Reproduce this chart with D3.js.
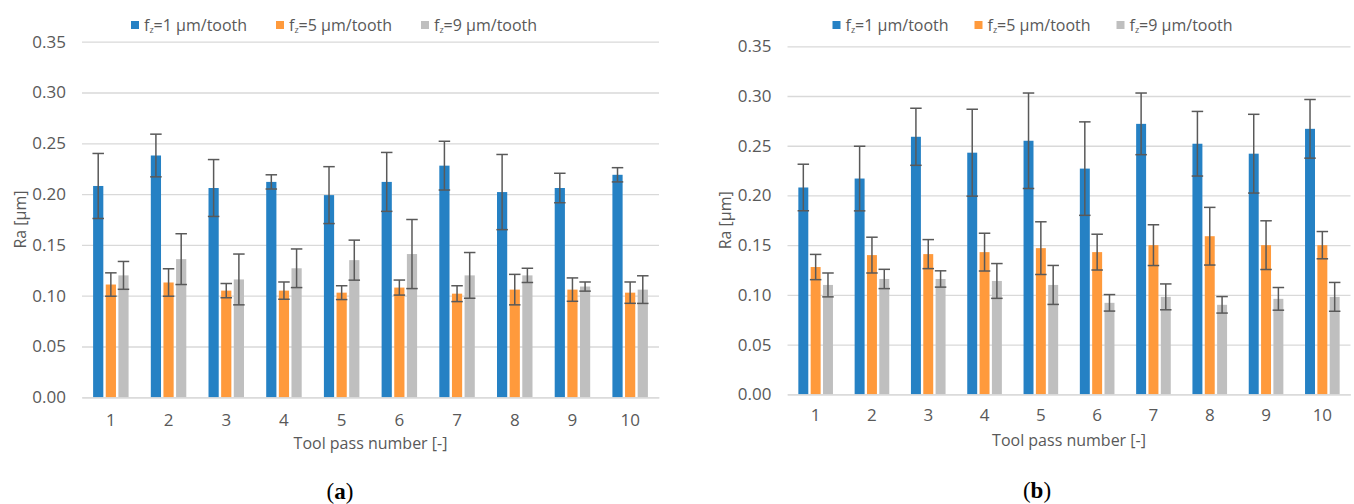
<!DOCTYPE html>
<html><head><meta charset="utf-8">
<script src="https://cdn.jsdelivr.net/npm/d3@7"></script>
<style>
html,body{margin:0;padding:0;background:#fff;}
svg{display:block;font-family:"Open Sans",sans-serif;}
</style></head>
<body>
<svg id="chart" width="1354" height="504"></svg>
<script>
// ---- data ----
const categories = ["1","2","3","4","5","6","7","8","9","10"];
const seriesNames = ["fz1","fz5","fz9"];
const seriesLabels = ["=1 μm/tooth","=5 μm/tooth","=9 μm/tooth"];
const yTicks = [0,0.05,0.10,0.15,0.20,0.25,0.30,0.35];

// panel (a)
const blueA      = [0.208,0.238,0.206,0.212,0.199,0.212,0.228,0.202,0.206,0.219];
const blueErrA   = [0.032,0.021,0.028,0.007,0.028,0.029,0.024,0.037,0.0145,0.007];
const orangeA    = [0.111,0.113,0.105,0.105,0.103,0.108,0.102,0.106,0.106,0.103];
const orangeErrA = [0.0115,0.0135,0.007,0.0085,0.0068,0.0074,0.0078,0.015,0.0115,0.0105];
const grayA      = [0.120,0.136,0.116,0.127,0.135,0.141,0.120,0.120,0.109,0.106];
const grayErrA   = [0.0137,0.025,0.025,0.019,0.0197,0.034,0.0225,0.007,0.0045,0.0136];

// panel (b)
const blueB      = [0.208,0.217,0.259,0.243,0.255,0.227,0.272,0.252,0.242,0.267];
const blueErrB   = [0.0234,0.0325,0.0287,0.0437,0.048,0.047,0.031,0.0325,0.0396,0.0295];
const orangeB    = [0.128,0.140,0.141,0.143,0.147,0.143,0.150,0.159,0.150,0.150];
const orangeErrB = [0.0127,0.018,0.0146,0.019,0.0265,0.018,0.0205,0.029,0.0245,0.0137];
const grayB      = [0.110,0.116,0.116,0.114,0.110,0.092,0.098,0.090,0.096,0.098];
const grayErrB   = [0.012,0.0097,0.0082,0.0175,0.0196,0.0083,0.013,0.0083,0.0114,0.0145];

const colors = ["#2581c4","#ff9a3c","#bfbfbf"];
const textColor = "#595959";
const gridColor = "#d9d9d9";

const svg = d3.select("#chart");

function drawPanel(p) {
  const g = svg.append("g");
  const y = d3.scaleLinear().domain([0,0.35]).range([p.y0, p.y35]);
  const x0 = d3.scaleBand().domain(categories).range([p.left, p.right]).paddingInner(0).paddingOuter(0);
  const x1 = d3.scaleBand().domain(seriesNames).range([0, x0.bandwidth()]).paddingInner(0.192).paddingOuter(0.879);

  // gridlines
  const yAxis = d3.axisLeft(y).tickValues(yTicks).tickFormat(d3.format(".2f")).tickSize(-(p.right-p.left)).tickPadding(16);
  const ya = g.append("g").attr("transform",`translate(${p.left},0)`).call(yAxis);
  ya.select(".domain").remove();
  ya.selectAll(".tick line").attr("stroke",gridColor).attr("stroke-width",1.3);
  ya.selectAll(".tick text").attr("fill",textColor).attr("font-size",17).attr("font-family","Open Sans");

  // bars
  const vals = [p.blue,p.orange,p.gray];
  const errs = [p.blueErr,p.orangeErr,p.grayErr];
  seriesNames.forEach((s,si) => {
    const sg = g.append("g");
    sg.selectAll("rect").data(categories).join("rect")
      .attr("x", (c)=>x0(c)+x1(s))
      .attr("width", x1.bandwidth())
      .attr("y", (c,i)=>y(vals[si][i]))
      .attr("height", (c,i)=>y(0)-y(vals[si][i]))
      .attr("fill", colors[si]);
  });

  // x axis
  const xAxis = d3.axisBottom(x0).tickSize(0).tickPadding(p.tickPad);
  const xa = g.append("g").attr("transform",`translate(0,${p.y0})`).call(xAxis);
  xa.select(".domain").attr("stroke",gridColor).attr("stroke-width",1.3);
  xa.selectAll(".tick text").attr("fill",textColor).attr("font-size",17).attr("font-family","Open Sans");

  // error bars
  const capW = 11.5;
  seriesNames.forEach((s,si) => {
    const eg = g.append("g").attr("stroke","#595959").attr("stroke-width",1.5).attr("fill","none");
    categories.forEach((c,i) => {
      const cx = x0(c)+x1(s)+x1.bandwidth()/2;
      const v = vals[si][i], e = errs[si][i];
      eg.append("line").attr("x1",cx).attr("x2",cx).attr("y1",y(v+e)).attr("y2",y(v-e));
      eg.append("line").attr("x1",cx-capW/2).attr("x2",cx+capW/2).attr("y1",y(v+e)).attr("y2",y(v+e));
      eg.append("line").attr("x1",cx-capW/2).attr("x2",cx+capW/2).attr("y1",y(v-e)).attr("y2",y(v-e));
    });
  });

  // axis titles
  g.append("text").attr("x",(p.left+p.right)/2).attr("y",p.xTitleY)
    .attr("text-anchor","middle").attr("dominant-baseline","central")
    .attr("fill",textColor).attr("font-size",16).text("Tool pass number [-]");
  g.append("text").attr("transform",`translate(${p.yTitleX},${(p.y0+p.y35)/2}) rotate(-90)`)
    .attr("text-anchor","middle").attr("dominant-baseline","central")
    .attr("fill",textColor).attr("font-size",16).text("Ra [μm]");

  // legend
  const lg = g.append("g");
  seriesNames.forEach((s,si) => {
    const lx = p.legX + si*p.legStep;
    lg.append("rect").attr("x",lx).attr("y",p.legY-4).attr("width",8).attr("height",8).attr("fill",colors[si]);
    const t = lg.append("text").attr("x",lx+13).attr("y",p.legY).attr("dominant-baseline","central")
      .attr("fill",textColor).attr("font-size",16);
    t.append("tspan").text("f");
    t.append("tspan").attr("font-size",9).attr("dy",4).text("z");
    t.append("tspan").attr("dy",-4).text(seriesLabels[si]);
  });

  // caption
  const cap = g.append("text").attr("x",p.capX).attr("y",p.capY).attr("text-anchor","middle")
    .attr("dominant-baseline","central").attr("font-family","Liberation Serif, serif").attr("font-size",23).attr("fill","#000");
  cap.append("tspan").text("(");
  cap.append("tspan").attr("font-weight","bold").text(p.capLetter);
  cap.append("tspan").text(")");
}

drawPanel({left:82, right:659, y0:397.3, y35:41.7, tickPad:17, xTitleY:443, yTitleX:20,
  legX:131, legStep:145, legY:25, capX:340, capY:491, capLetter:"a",
  blue:blueA, blueErr:blueErrA, orange:orangeA, orangeErr:orangeErrA, gray:grayA, grayErr:grayErrA});
drawPanel({left:787.5, right:1350.5, y0:394.3, y35:46.3, tickPad:15, xTitleY:440, yTitleX:725,
  legX:832.5, legStep:142, legY:25, capX:1037, capY:490, capLetter:"b",
  blue:blueB, blueErr:blueErrB, orange:orangeB, orangeErr:orangeErrB, gray:grayB, grayErr:grayErrB});
</script>
</body></html>
